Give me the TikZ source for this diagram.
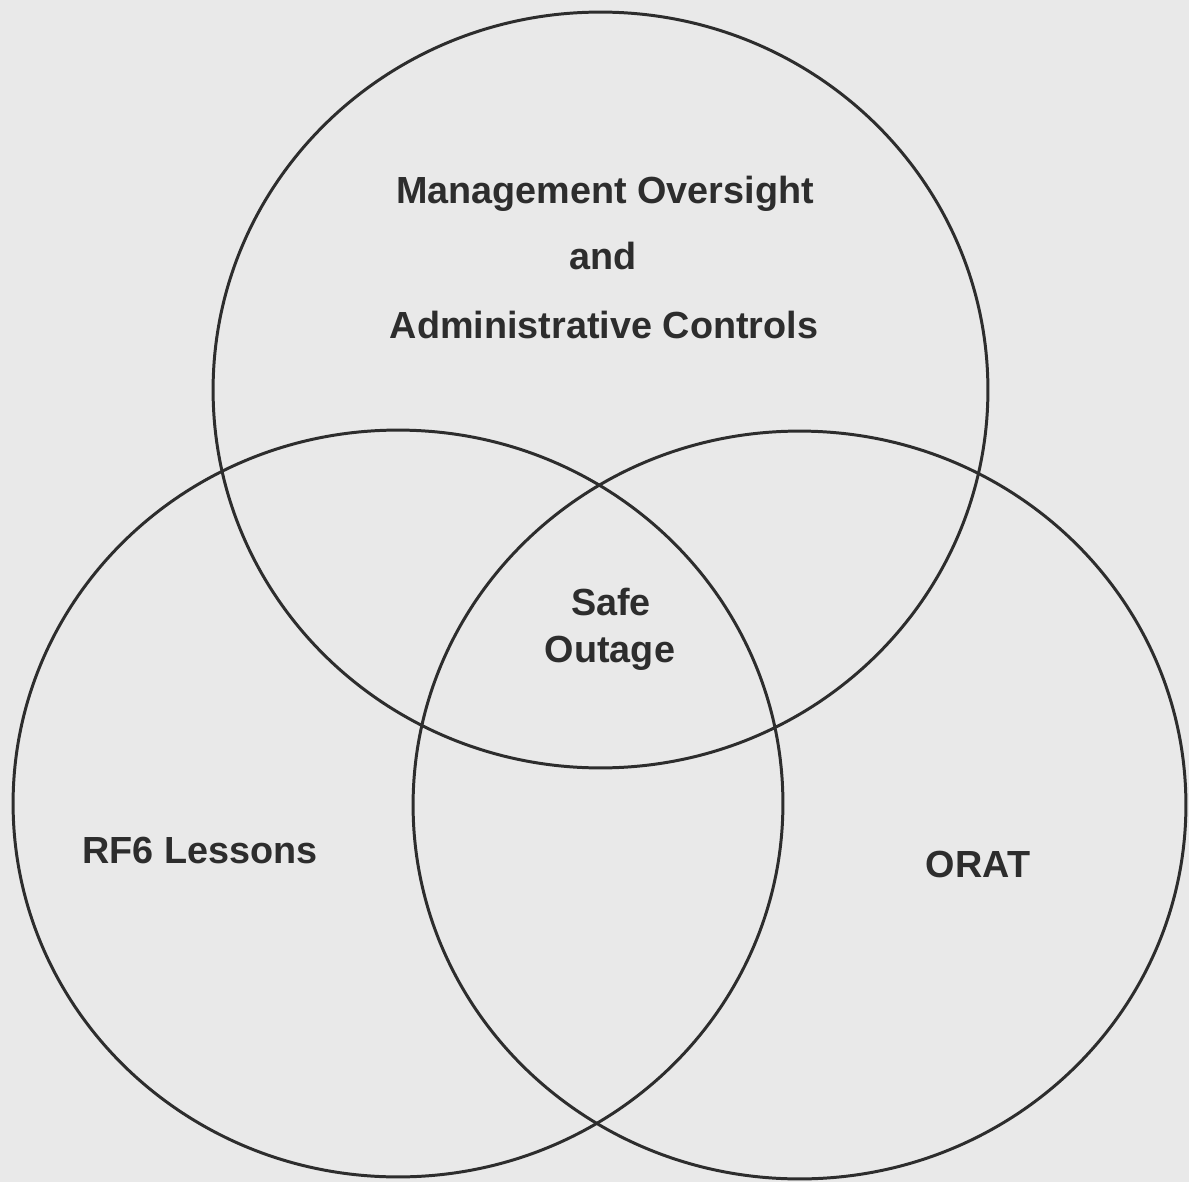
\documentclass[tikz,border=0pt]{standalone}
\usepackage{fontspec}
\setmainfont{Liberation Sans}
\definecolor{paper}{RGB}{233,233,233}
\definecolor{ink}{RGB}{45,45,45}
\begin{document}
\begin{tikzpicture}[x=0.02cm,y=-0.02cm,
  ring/.style={draw=ink,line width=1.7pt},
  lbl/.style={anchor=base,inner sep=0pt,text=ink,font=\fontsize{21.5}{26}\selectfont\bfseries}]
\fill[paper] (0,0) rectangle (1189,1182);
\useasboundingbox (0,0) rectangle (1189,1182);
\draw[ring] (600.5,390) ellipse [x radius=7.75cm, y radius=7.56cm];
\draw[ring] (398,803.5) ellipse [x radius=7.70cm, y radius=7.47cm];
\draw[ring] (799.5,805) ellipse [x radius=7.73cm, y radius=7.48cm];
\node[lbl] (m1) at (605,204) {Management Oversight};
\node[lbl] (m2) at (603,270) {and};
\node[lbl] (m3) at (604,338) {Administrative Controls};
\node[lbl] (s1) at (611,615) {Safe};
\node[lbl] (s2) at (610,662) {Outage};
\node[lbl] (rf) at (200,863) {RF6 Lessons};
\node[lbl] (or) at (978,877) {ORAT};
\end{tikzpicture}
\end{document}
